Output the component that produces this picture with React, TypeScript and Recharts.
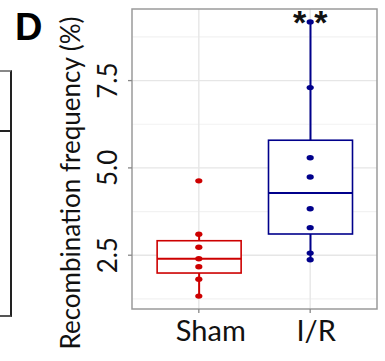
import React from 'react';
import {
  ComposedChart,
  Bar,
  Scatter,
  XAxis,
  YAxis,
  CartesianGrid,
  ReferenceArea,
  ReferenceDot,
} from 'recharts';

// ---- data ----
const groups = ['Sham', 'I/R'];
const groupPositions = [1, 2];
const shamValues = [4.63, 3.1, 2.73, 2.4, 2.17, 1.81, 1.33];
const irValues = [9.18, 7.3, 5.29, 4.74, 3.83, 3.29, 2.56, 2.37];
const yTicks = [2.5, 5.0, 7.5];
const yMinorTicks = [1.25, 3.75, 6.25, 8.75];
const significanceLabel = '**';
const yTitle = 'Recombination frequency (%)';
const panelLetter = 'D';

// ---- styles ----
const RED = '#CD0000';
const BLUE = '#00008B';
const groupColors: Record<string, string> = { Sham: RED, 'I/R': BLUE };
const FONT = 'Lato, "Open Sans", sans-serif';
const xLabelShift: Record<string, number> = { Sham: 12, 'I/R': 6 };

function quantile(sorted: number[], p: number) {
  const h = (sorted.length - 1) * p;
  const lo = Math.floor(h);
  const hi = Math.ceil(h);
  return sorted[lo] + (h - lo) * (sorted[hi] - sorted[lo]);
}

function boxStats(values: number[], group: string, x: number) {
  const s = [...values].sort((a, b) => a - b);
  const q1 = quantile(s, 0.25);
  const median = quantile(s, 0.5);
  const q3 = quantile(s, 0.75);
  const iqr = q3 - q1;
  const inside = s.filter((v) => v >= q1 - 1.5 * iqr && v <= q3 + 1.5 * iqr);
  return { group, x, q1, median, q3, lower: inside[0], upper: inside[inside.length - 1] };
}

const boxData = [
  boxStats(shamValues, groups[0], groupPositions[0]),
  boxStats(irValues, groups[1], groupPositions[1]),
];
const shamPoints = shamValues.map((v) => ({ x: groupPositions[0], y: v }));
const irPoints = irValues.map((v) => ({ x: groupPositions[1], y: v }));

const BoxShape = (props: any) => {
  const { x, y, width, height, payload } = props;
  const top = Math.min(y, y + height);
  const h = Math.abs(height);
  const ppu = h / (payload.upper - payload.lower);
  const yOf = (v: number) => top + (payload.upper - v) * ppu;
  const cx = x + width / 2;
  const color = groupColors[payload.group];
  return (
    <g>
      <line x1={cx} x2={cx} y1={yOf(payload.upper)} y2={yOf(payload.q3)} stroke={color} strokeWidth={2} />
      <line x1={cx} x2={cx} y1={yOf(payload.q1)} y2={yOf(payload.lower)} stroke={color} strokeWidth={2} />
      <rect
        x={x}
        y={yOf(payload.q3)}
        width={width}
        height={yOf(payload.q1) - yOf(payload.q3)}
        fill="#ffffff"
        stroke={color}
        strokeWidth={1.6}
      />
      <line x1={x} x2={x + width} y1={yOf(payload.median)} y2={yOf(payload.median)} stroke={color} strokeWidth={2} />
    </g>
  );
};

const makeDot = (color: string) => (p: any) => (
  <ellipse cx={p.cx} cy={p.cy} rx={3.6} ry={2.7} fill={color} />
);

const XTick = (props: any) => {
  const { x, y, payload } = props;
  const label = groups[groupPositions.indexOf(payload.value)];
  return (
    <text x={x + (xLabelShift[label] || 0)} y={y + 26} textAnchor="middle" fontSize={29} fontFamily={FONT} fill="#111">
      {label}
    </text>
  );
};

const YTick = (props: any) => {
  const { y, payload } = props;
  const bx = 117;
  return (
    <text
      x={bx}
      y={y}
      transform={`rotate(-90 ${bx} ${y})`}
      textAnchor="middle"
      fontSize={26}
      fontFamily={FONT}
      fill="#111"
    >
      {payload.value.toFixed(1)}
    </text>
  );
};

const YTitle = () => (
  <text
    x={80}
    y={183}
    transform="rotate(-90 80 183)"
    textAnchor="middle"
    fontSize={26}
    fontFamily={FONT}
    fill="#111"
  >
    {yTitle}
  </text>
);

const SigLabel = (props: any) => {
  const { viewBox } = props;
  const cx = viewBox.x + (viewBox.width || 0) / 2;
  const cy = viewBox.y + (viewBox.height || 0) / 2;
  const ls = 8;
  return (
    <text
      x={cx + ls / 2}
      y={cy + 12}
      textAnchor="middle"
      fontSize={34}
      fontWeight="bold"
      fontFamily="'Liberation Sans', Arial"
      letterSpacing={ls}
      fill="#111"
    >
      {significanceLabel}
    </text>
  );
};

export default function App() {
  return (
    <div style={{ position: 'absolute', left: 0, top: 0, width: 385, height: 361, background: '#fff' }}>
      {/* neighbouring panel remnant */}
      <div style={{ position: 'absolute', left: 0, top: 70, width: 10, height: 243, borderRight: '2px solid #222', borderTop: '2px solid #888', borderBottom: '2px solid #555' }} />
      <div style={{ position: 'absolute', left: 0, top: 130, width: 11, height: 0, borderTop: '2px solid #222' }} />
      <div
        style={{
          position: 'absolute',
          left: 15,
          top: 7.5,
          fontSize: 38,
          fontWeight: 'bold',
          fontFamily: "'Liberation Sans', Arial, sans-serif",
          lineHeight: '38px',
          color: '#000',
        }}
      >
        {panelLetter}
      </div>
      <ComposedChart
        width={385}
        height={361}
        data={boxData}
        margin={{ top: 9, right: 8, bottom: 12, left: 92 }}
        style={{ position: 'absolute', left: 0, top: 0 }}
      >
        <CartesianGrid horizontalValues={yMinorTicks} vertical={false} stroke="#f2f2f2" strokeWidth={1.2} />
        <CartesianGrid horizontalValues={yTicks} verticalValues={groupPositions} stroke="#e6e6e6" strokeWidth={1.4} />
        <XAxis
          type="number"
          dataKey="x"
          domain={[0.4, 2.6]}
          ticks={groupPositions}
          allowDataOverflow
          interval={0}
          axisLine={false}
          tickLine={{ stroke: '#888', strokeWidth: 1.3 }}
          tickSize={4}
          height={40}
          tick={<XTick />}
        />
        <YAxis
          type="number"
          domain={[0.96, 9.55]}
          ticks={yTicks}
          allowDataOverflow
          interval={0}
          width={40}
          axisLine={false}
          tickLine={{ stroke: '#888', strokeWidth: 1.3 }}
          tickSize={4}
          tick={<YTick />}
          label={<YTitle />}
        />
        <Bar
          dataKey={(d: any) => [d.lower, d.upper]}
          barSize={84}
          shape={<BoxShape />}
          isAnimationActive={false}
        />
        <Scatter data={shamPoints} dataKey="y" shape={makeDot(RED)} isAnimationActive={false} />
        <Scatter data={irPoints} dataKey="y" shape={makeDot(BLUE)} isAnimationActive={false} />
        <ReferenceArea x1={0.4} x2={2.6} y1={0.96} y2={9.55} fill="none" stroke="#9a9a9a" strokeWidth={1.5} />
        <ReferenceDot x={groupPositions[1]} y={Math.max(...irValues)} r={0} fill="none" stroke="none" label={<SigLabel />} />
      </ComposedChart>
    </div>
  );
}
